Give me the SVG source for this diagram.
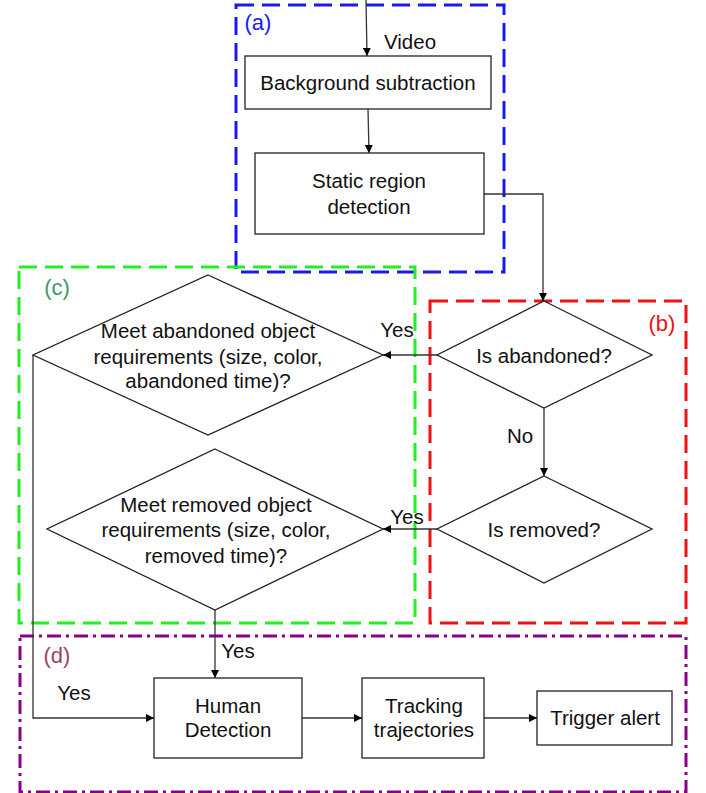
<svg xmlns="http://www.w3.org/2000/svg" width="706" height="793" viewBox="0 0 706 793">
<style>
  text { font-family: "Liberation Sans", Arial, sans-serif; font-size: 20.5px; fill: #111; }
  .c { text-anchor: middle; dominant-baseline: central; }
  .node { fill: #fff; stroke: #222; stroke-width: 1.3; }
  .conn { fill: none; stroke: #333; stroke-width: 1.3; }
  .grp { fill: none; stroke-width: 3; }
  .lab { font-size: 22px; }
</style>
<defs>
  <marker id="ah" viewBox="0 0 10 10" refX="10" refY="5" markerWidth="8" markerHeight="8" markerUnits="userSpaceOnUse" orient="auto">
    <path d="M0,0 L10,5 L0,10 z" fill="#000"/>
  </marker>
</defs>

<g id="groups">
  <rect id="group-a" class="grp" x="236" y="5" width="268" height="267" stroke="#1a1aee" stroke-dasharray="18 8"/>
  <rect id="group-c" class="grp" x="19" y="267" width="396" height="356" stroke="#22ee22" stroke-dasharray="18 8"/>
  <rect id="group-b" class="grp" x="430" y="301" width="256" height="322" stroke="#ee1111" stroke-dasharray="18 8"/>
  <rect id="group-d" class="grp" x="20" y="636" width="666" height="156" stroke="#880088" stroke-dasharray="14 5 3 5"/>
  <text class="c lab" x="258" y="22" style="fill:#1a1aee">(a)</text>
  <text class="c lab" x="662" y="323" style="fill:#ee1111">(b)</text>
  <text class="c lab" x="57" y="287" style="fill:#3a9a6a">(c)</text>
  <text class="c lab" x="57" y="655" style="fill:#a0406a">(d)</text>
</g>

<g id="connectors">
  <line class="conn" x1="366" y1="0" x2="367" y2="56" marker-end="url(#ah)"/>
  <line class="conn" x1="368" y1="109" x2="369" y2="153" marker-end="url(#ah)"/>
  <polyline class="conn" points="484,194 543,194 543,301" marker-end="url(#ah)"/>
  <line class="conn" x1="437" y1="355" x2="383" y2="355" marker-end="url(#ah)"/>
  <line class="conn" x1="544" y1="408" x2="544" y2="476" marker-end="url(#ah)"/>
  <line class="conn" x1="437" y1="529" x2="383" y2="529" marker-end="url(#ah)"/>
  <polyline class="conn" points="33,355 33,718 154,718" marker-end="url(#ah)"/>
  <line class="conn" x1="215" y1="610" x2="215" y2="678" marker-end="url(#ah)"/>
  <line class="conn" x1="302" y1="718" x2="362" y2="718" marker-end="url(#ah)"/>
  <line class="conn" x1="484" y1="718" x2="537" y2="718" marker-end="url(#ah)"/>
  <text x="384" y="49">Video</text>
  <text class="c" x="397" y="329">Yes</text>
  <text class="c" x="520" y="435">No</text>
  <text class="c" x="407" y="516">Yes</text>
  <text class="c" x="74" y="692">Yes</text>
  <text class="c" x="238" y="650">Yes</text>
</g>

<g id="background-subtraction">
  <rect class="node" x="245" y="56" width="246" height="53"/>
  <text class="c" x="368" y="82">Background subtraction</text>
</g>

<g id="static-region-detection">
  <rect class="node" x="255" y="153" width="229" height="81"/>
  <text class="c" x="369" y="180">Static region</text>
  <text class="c" x="369" y="206">detection</text>
</g>

<g id="is-abandoned">
  <polygon class="node" points="544,301 652,355 544,408 437,355"/>
  <text class="c" x="544" y="355">Is abandoned?</text>
</g>

<g id="is-removed">
  <polygon class="node" points="544,476 652,529 544,583 437,529"/>
  <text class="c" x="544" y="529">Is removed?</text>
</g>

<g id="meet-abandoned">
  <polygon class="node" points="208,275 383,355 208,435 33,355"/>
  <text class="c" x="208" y="330">Meet abandoned object</text>
  <text class="c" x="208" y="356">requirements (size, color,</text>
  <text class="c" x="208" y="380">abandoned time)?</text>
</g>

<g id="meet-removed">
  <polygon class="node" points="215,449 383,529 215,610 47,529"/>
  <text class="c" x="216" y="504">Meet removed object</text>
  <text class="c" x="216" y="529">requirements (size, color,</text>
  <text class="c" x="216" y="555">removed time)?</text>
</g>

<g id="human-detection">
  <rect class="node" x="154" y="678" width="148" height="80"/>
  <text class="c" x="228" y="705">Human</text>
  <text class="c" x="228" y="729">Detection</text>
</g>

<g id="tracking-trajectories">
  <rect class="node" x="362" y="678" width="122" height="80"/>
  <text class="c" x="424" y="705">Tracking</text>
  <text class="c" x="424" y="729">trajectories</text>
</g>

<g id="trigger-alert">
  <rect class="node" x="537" y="691" width="135" height="54"/>
  <text class="c" x="605" y="717">Trigger alert</text>
</g>
</svg>
